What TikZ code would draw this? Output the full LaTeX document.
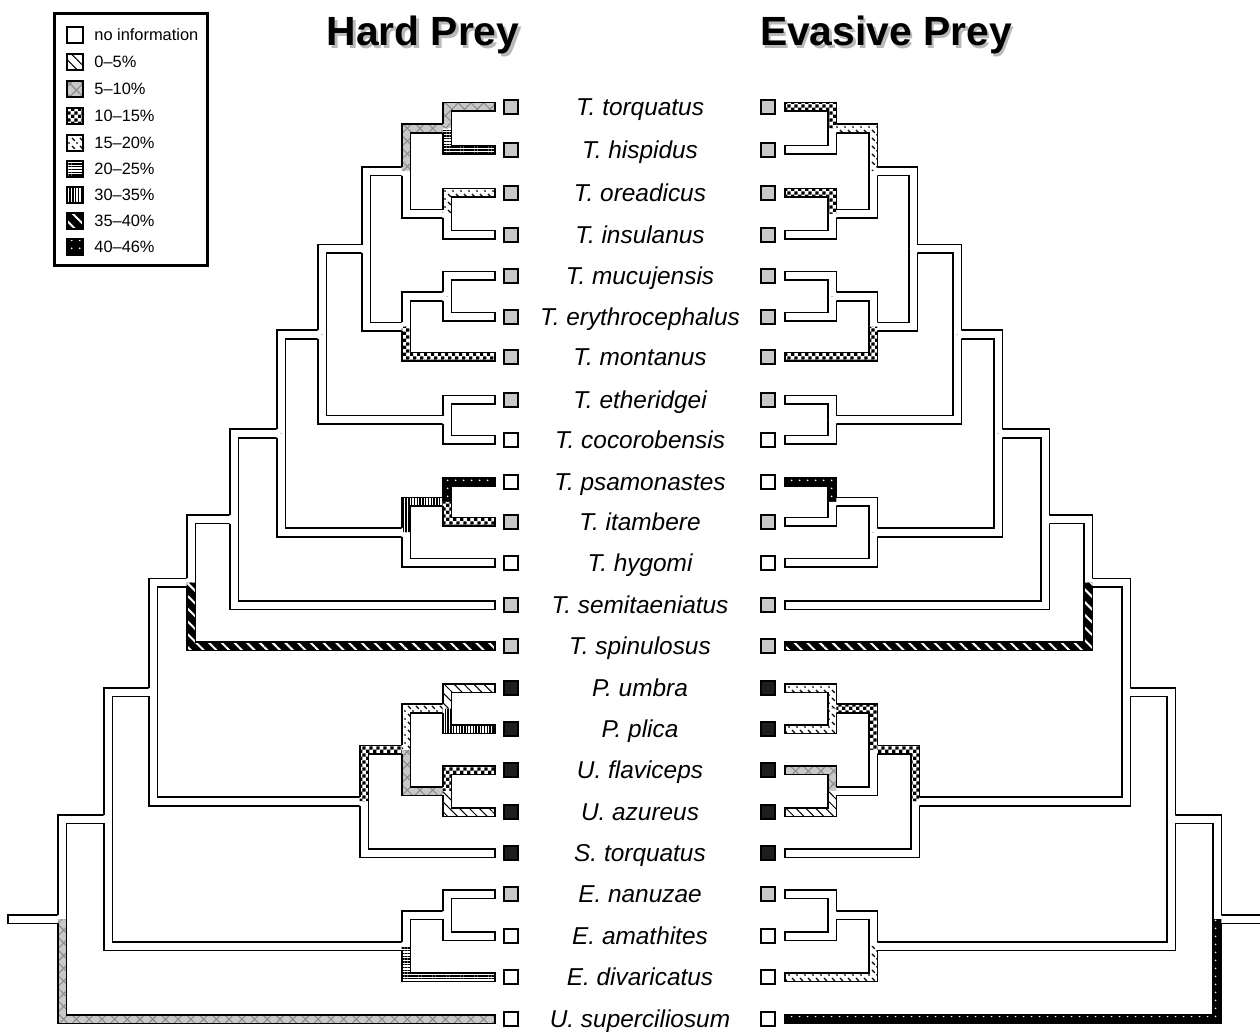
\documentclass[tikz,border=0pt]{standalone}
\usepackage{fontspec}
\setmainfont{Liberation Sans}
\usepackage{tikz}
\usetikzlibrary{patterns,patterns.meta,calc}
\definecolor{tipgrey}{RGB}{200,200,200}
\definecolor{hatchgrey}{RGB}{140,140,140}
\definecolor{tipblack}{RGB}{30,30,30}

% checks for 10-15%, broken diagonals for 15-20%
\pgfdeclarepatternformonly{checks}{\pgfpointorigin}{\pgfqpoint{3.6pt}{3.6pt}}{\pgfqpoint{3.6pt}{3.6pt}}{%
  \pgfpathrectangle{\pgfpointorigin}{\pgfqpoint{1.8pt}{1.8pt}}%
  \pgfpathrectangle{\pgfqpoint{1.8pt}{1.8pt}}{\pgfqpoint{1.8pt}{1.8pt}}%
  \pgfusepath{fill}}
\pgfdeclarepatternformonly{dashdiag}{\pgfqpoint{-0.5pt}{-0.5pt}}{\pgfqpoint{4.5pt}{4.5pt}}{\pgfqpoint{4pt}{4pt}}{%
  \pgfsetlinewidth{0.6pt}%
  \pgfpathmoveto{\pgfqpoint{0pt}{3pt}}\pgfpathlineto{\pgfqpoint{1.4pt}{1.6pt}}%
  \pgfpathmoveto{\pgfqpoint{2.2pt}{0.8pt}}\pgfpathlineto{\pgfqpoint{2.8pt}{0.2pt}}%
  \pgfusepath{stroke}}

\newcommand{\hw}{2.15pt}
% one branch: child -> parent, as an L-shaped band
\newcommand{\branch}[3]{%
  \path[#1] let \p1=(#2), \p2=(#3), \n1={sign(\x2-\x1)}, \n2={sign(\y2-\y1)} in
    (\x1,{\y1-(\n2)*\hw}) -- ({\x2+(\n1)*\hw},{\y1-(\n2)*\hw}) -- ({\x2+(\n1)*\hw},\y2)
    -- ({\x2-(\n1)*\hw},\y2) -- ({\x2-(\n1)*\hw},{\y1+(\n2)*\hw}) -- (\x1,{\y1+(\n2)*\hw}) -- cycle;
  \draw[edge] let \p1=(#2), \p2=(#3), \n1={sign(\x2-\x1)}, \n2={sign(\y2-\y1)} in
    ({\x2+(\n1)*\hw},{\y2-(\n2)*\hw}) -- ({\x2+(\n1)*\hw},{\y1-(\n2)*\hw}) -- (\x1,{\y1-(\n2)*\hw})
    -- (\x1,{\y1+(\n2)*\hw}) -- ({\x2-(\n1)*\hw},{\y1+(\n2)*\hw}) -- ({\x2-(\n1)*\hw},\y2);
}

\begin{document}
\begin{tikzpicture}[x=0.5pt, y=-0.5pt,
    edge/.style={line width=0.8pt, line join=miter},
    w/.style={fill=white},
    p0/.style={preaction={fill=white}, pattern={Lines[angle=-45,distance=3.5pt,line width=0.5pt]}},
    p5/.style={preaction={fill=tipgrey}, pattern={Hatch[angle=45,distance=4.5pt,line width=0.55pt]}, pattern color=hatchgrey},
    p10/.style={preaction={fill=white}, pattern=checks},
    p15/.style={preaction={fill=white}, pattern=dashdiag},
    p20/.style={preaction={fill=white}, pattern={Lines[angle=0,distance=1.4pt,line width=0.7pt]}},
    p30/.style={preaction={fill=white}, pattern={Lines[angle=90,distance=1.4pt,line width=0.7pt]}},
    p35/.style={preaction={fill=black}, pattern={Lines[angle=-45,distance=4.5pt,line width=1pt]}, pattern color=white},
    p40/.style={preaction={fill=black}, pattern={Dots[distance=4pt,radius=0.5pt]}, pattern color=white},
    tipsq/.style={draw, line width=0.6pt, minimum size=7pt, inner sep=0pt},
    lgsq/.style={draw, line width=0.6pt, minimum size=8pt, inner sep=0pt},
    taxon/.style={font=\fontsize{12.2}{14}\selectfont\itshape, anchor=base, inner sep=0pt},
    lgtext/.style={font=\fontsize{8.2}{10}\selectfont, anchor=base west, inner sep=0pt},
    title/.style={font=\fontsize{20.4}{24}\selectfont\bfseries, anchor=base, inner sep=0pt}]
  \useasboundingbox (0,0) rectangle (1260,1032);

  % titles
  \node[title, text=gray!55] (hardsh) at (425.5,48.5) {Hard Prey};
  \node[title] (hard) at (423,46) {Hard Prey};
  \node[title, text=gray!55] (evash) at (888.5,48.5) {Evasive Prey};
  \node[title] (eva) at (886,46) {Evasive Prey};

  % legend
  \draw[line width=1.5pt] (54,14) rectangle (207,266);
  \node[lgsq, w] (k0) at (75,35) {};
  \node[lgsq, p0] (k1) at (75,62) {};
  \node[lgsq, p5] (k2) at (75,89) {};
  \node[lgsq, p10] (k3) at (75,116) {};
  \node[lgsq, p15] (k4) at (75,143) {};
  \node[lgsq, p20] (k5) at (75,169) {};
  \node[lgsq, p30] (k6) at (75,195) {};
  \node[lgsq, p35] (k7) at (75,221) {};
  \node[lgsq, p40] (k8) at (75,247) {};
  \foreach \k/\yy/\tx in {0/35/no information, 1/62/0–5\%, 2/89/5–10\%, 3/116/10–15\%,
      4/143/15–20\%, 5/169/20–25\%, 6/195/30–35\%, 7/221/35–40\%, 8/247/40–46\%}
    \node[lgtext] (t\k) at (94,\yy+5.9) {\tx};

  % taxa: tips, squares, names
  \foreach \nm/\yy/\f/\tx in {tor/107/tipgrey/{T. torquatus}, his/150/tipgrey/{T. hispidus},
      ore/193/tipgrey/{T. oreadicus}, ins/235/tipgrey/{T. insulanus},
      muc/276/tipgrey/{T. mucujensis}, ery/317/tipgrey/{T. erythrocephalus},
      mon/357/tipgrey/{T. montanus}, eth/400/tipgrey/{T. etheridgei},
      coc/440/white/{T. cocorobensis}, psa/482/white/{T. psamonastes},
      ita/522/tipgrey/{T. itambere}, hyg/563/white/{T. hygomi},
      sem/605/tipgrey/{T. semitaeniatus}, spi/646/tipgrey/{T. spinulosus},
      umb/688/tipblack/{P. umbra}, pli/729/tipblack/{P. plica},
      fla/770/tipblack/{U. flaviceps}, azu/812/tipblack/{U. azureus},
      sto/853/tipblack/{S. torquatus}, nan/894/tipgrey/{E. nanuzae},
      ama/936/white/{E. amathites}, div/977/white/{E. divaricatus},
      sup/1019/white/{U. superciliosum}} {
    \coordinate (l\nm) at (495,\yy);
    \coordinate (r\nm) at (785,\yy);
    \node[tipsq, fill=\f] (sl\nm) at (511,\yy) {};
    \node[tipsq, fill=\f] (sr\nm) at (768,\yy) {};
    \node[taxon] (x\nm) at (640,\yy+8.7) {\tx};
  }

  % inner nodes, right tree mirrored
  \foreach \nm/\xx/\yy in {a/447/128.5, b/447/214, c/406/171.25, d/447/296.5, e/406/326.75,
      f/366/249, g/447/420, h/322/334.5, i/447/502, j/406/532.5, k/281/433.5,
      l/234/519.25, m/191/582.6, n/447/708.5, o/447/791, p/406/749.75, q/364/801.4,
      r/153/692, s/447/915, t/406/946, u/108/819, v/62/919} {
    \coordinate (l\nm) at (\xx,\yy);
    \coordinate (r\nm) at ({1279-\xx},\yy);
  }

  % root stubs
  \coordinate (lroot) at (8,919);
  \coordinate (rroot) at (1266,919);
  \path[w] (lroot) ++(0,-4.3) rectangle ++(54,8.6);
  \draw[edge] (lroot) ++(54,-4.3) -- ++(-54,0) -- ++(0,8.6) -- ++(54,0);
  \path[w] (rroot) ++(0,-4.3) rectangle ++(-49,8.6);
  \draw[edge] (rroot) ++(0,-4.3) -- ++(-49,0) ++(0,8.6) -- ++(49,0);

  % hard prey
  \foreach \c/\p/\s in {u/v/w, sup/v/p5, r/u/w, t/u/w, s/t/w, div/t/p20, nan/s/w, ama/s/w,
      m/r/w, q/r/w, p/q/p10, sto/q/w, n/p/p15, o/p/p5, umb/n/p0, pli/n/p30,
      fla/o/p10, azu/o/p0, l/m/w, spi/m/p35, k/l/w, sem/l/w, h/k/w, j/k/w,
      i/j/p30, hyg/j/w, psa/i/p40, ita/i/p10, f/h/w, g/h/w, eth/g/w, coc/g/w,
      c/f/w, e/f/w, d/e/w, mon/e/p10, muc/d/w, ery/d/w, a/c/p5, b/c/w,
      tor/a/p5, his/a/p20, ore/b/p15, ins/b/w} {
    \edef\tmp{\noexpand\branch{\s}{l\c}{l\p}}\tmp
  }

  % evasive prey
  \foreach \c/\p/\s in {u/v/w, sup/v/p40, r/u/w, t/u/w, s/t/w, div/t/p15, nan/s/w, ama/s/w,
      m/r/w, q/r/w, p/q/p10, sto/q/w, n/p/p10, o/p/w, umb/n/p15, pli/n/p15,
      fla/o/p5, azu/o/p0, l/m/w, spi/m/p35, k/l/w, sem/l/w, h/k/w, j/k/w,
      i/j/w, hyg/j/w, psa/i/p40, ita/i/w, f/h/w, g/h/w, eth/g/w, coc/g/w,
      c/f/w, e/f/w, d/e/w, mon/e/p10, muc/d/w, ery/d/w, a/c/p15, b/c/w,
      tor/a/p10, his/a/w, ore/b/p10, ins/b/w} {
    \edef\tmp{\noexpand\branch{\s}{r\c}{r\p}}\tmp
  }
\end{tikzpicture}
\end{document}
